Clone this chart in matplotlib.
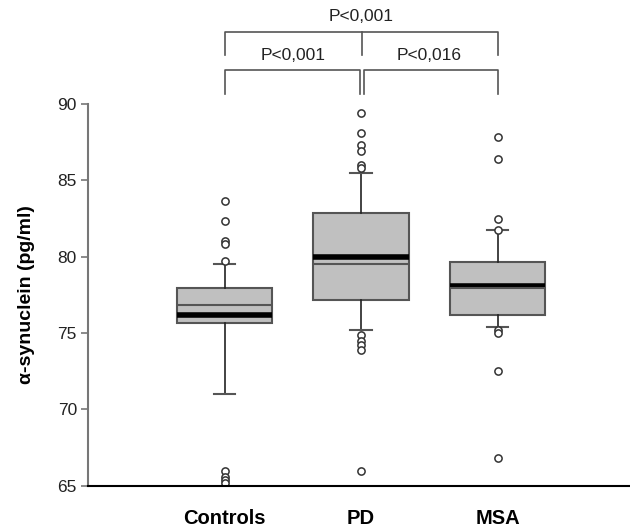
import numpy as np
import matplotlib.pyplot as plt

plt.rcParams['font.family'] = ['Liberation Sans', 'DejaVu Sans']

# Group summaries (pg/ml)
groups = ['Controls', 'PD', 'MSA']
q1 = [75.67, 77.19, 76.16]
medians = [76.16, 79.95, 78.09]
q3 = [77.95, 82.83, 79.62]
means = [76.86, 79.55, 77.98]
whisk_lo = [71.03, 75.18, 75.40]
whisk_hi = [79.50, 85.50, 81.74]
outliers = [
    [83.64, 82.33, 81.0, 80.8, 79.7, 65.95, 65.6, 65.4, 65.2],
    [89.39, 88.08, 87.31, 86.92, 86.0, 85.78, 74.85, 74.5, 74.2, 73.87, 65.95],
    [87.86, 86.37, 82.46, 81.78, 75.23, 75.0, 72.52, 66.8],
]

# Pairwise comparisons: (left group, right group, label)
comparisons = [(1, 2, 'P<0,001'), (2, 3, 'P<0,016'), (1, 3, 'P<0,001')]

stats = []
for i, name in enumerate(groups):
    stats.append(dict(label=name, med=medians[i], q1=q1[i], q3=q3[i],
                      mean=means[i], whislo=whisk_lo[i], whishi=whisk_hi[i],
                      fliers=outliers[i]))

fig = plt.figure(figsize=(6.3, 5.29), dpi=100)
ax = fig.add_axes([88 / 630, 1 - 485.7 / 529, 1 - 88 / 630, (485.7 - 104) / 529])

edge = '#555555'
ax.bxp(stats, positions=[1, 2, 3], widths=0.7, capwidths=0.16,
       showmeans=True, meanline=True, patch_artist=True,
       boxprops=dict(facecolor='#c0c0c0', edgecolor=edge, linewidth=1.5),
       medianprops=dict(color='black', linewidth=4, solid_capstyle='butt'),
       meanprops=dict(color=edge, linewidth=1.5, linestyle='-'),
       whiskerprops=dict(color='#222222', linewidth=1.2),
       capprops=dict(color=edge, linewidth=1.5),
       flierprops=dict(marker='o', markersize=5.2, markerfacecolor='white',
                       markeredgecolor='#333333', markeredgewidth=1.1))

ax.set_xlim(0, 3.97)
ax.set_ylim(65, 90)
ax.set_yticks([65, 70, 75, 80, 85, 90])
ax.tick_params(axis='y', colors='#777777', width=1.2, length=5, labelsize=12.5,
               labelcolor='#222222', pad=3)
ax.tick_params(axis='x', length=0, labelsize=14.5, pad=17)
for lab in ax.get_xticklabels():
    lab.set_fontweight('bold')
ax.set_ylabel('α-synuclein (pg/ml)', fontsize=14, fontweight='bold', labelpad=16)

for s in ['top', 'right']:
    ax.spines[s].set_visible(False)
ax.spines['left'].set_color('#777777')
ax.spines['left'].set_linewidth(1.5)
ax.spines['bottom'].set_color('black')
ax.spines['bottom'].set_linewidth(1.5)

# significance brackets above the boxes
bk = dict(color=edge, linewidth=1.2, clip_on=False)
low_y, low_leg = 92.23, 90.64
top_y, top_leg = 94.73, 93.21
ax.plot([1, 1, 1.99, 1.99], [low_leg, low_y, low_y, low_leg], **bk)
ax.plot([2.02, 2.02, 3, 3], [low_leg, low_y, low_y, low_leg], **bk)
ax.plot([1, 1, 3, 3], [top_leg, top_y, top_y, top_leg], **bk)
ax.plot([2.01, 2.01], [top_y, top_leg], **bk)
for (a, b, txt) in comparisons:
    ty = 95.75 if (b - a) == 2 else 93.15
    ax.text((a + b) / 2, ty, txt, ha='center', va='center', fontsize=12.5,
            color='#222222')

fig.savefig('out.png', dpi=100)
